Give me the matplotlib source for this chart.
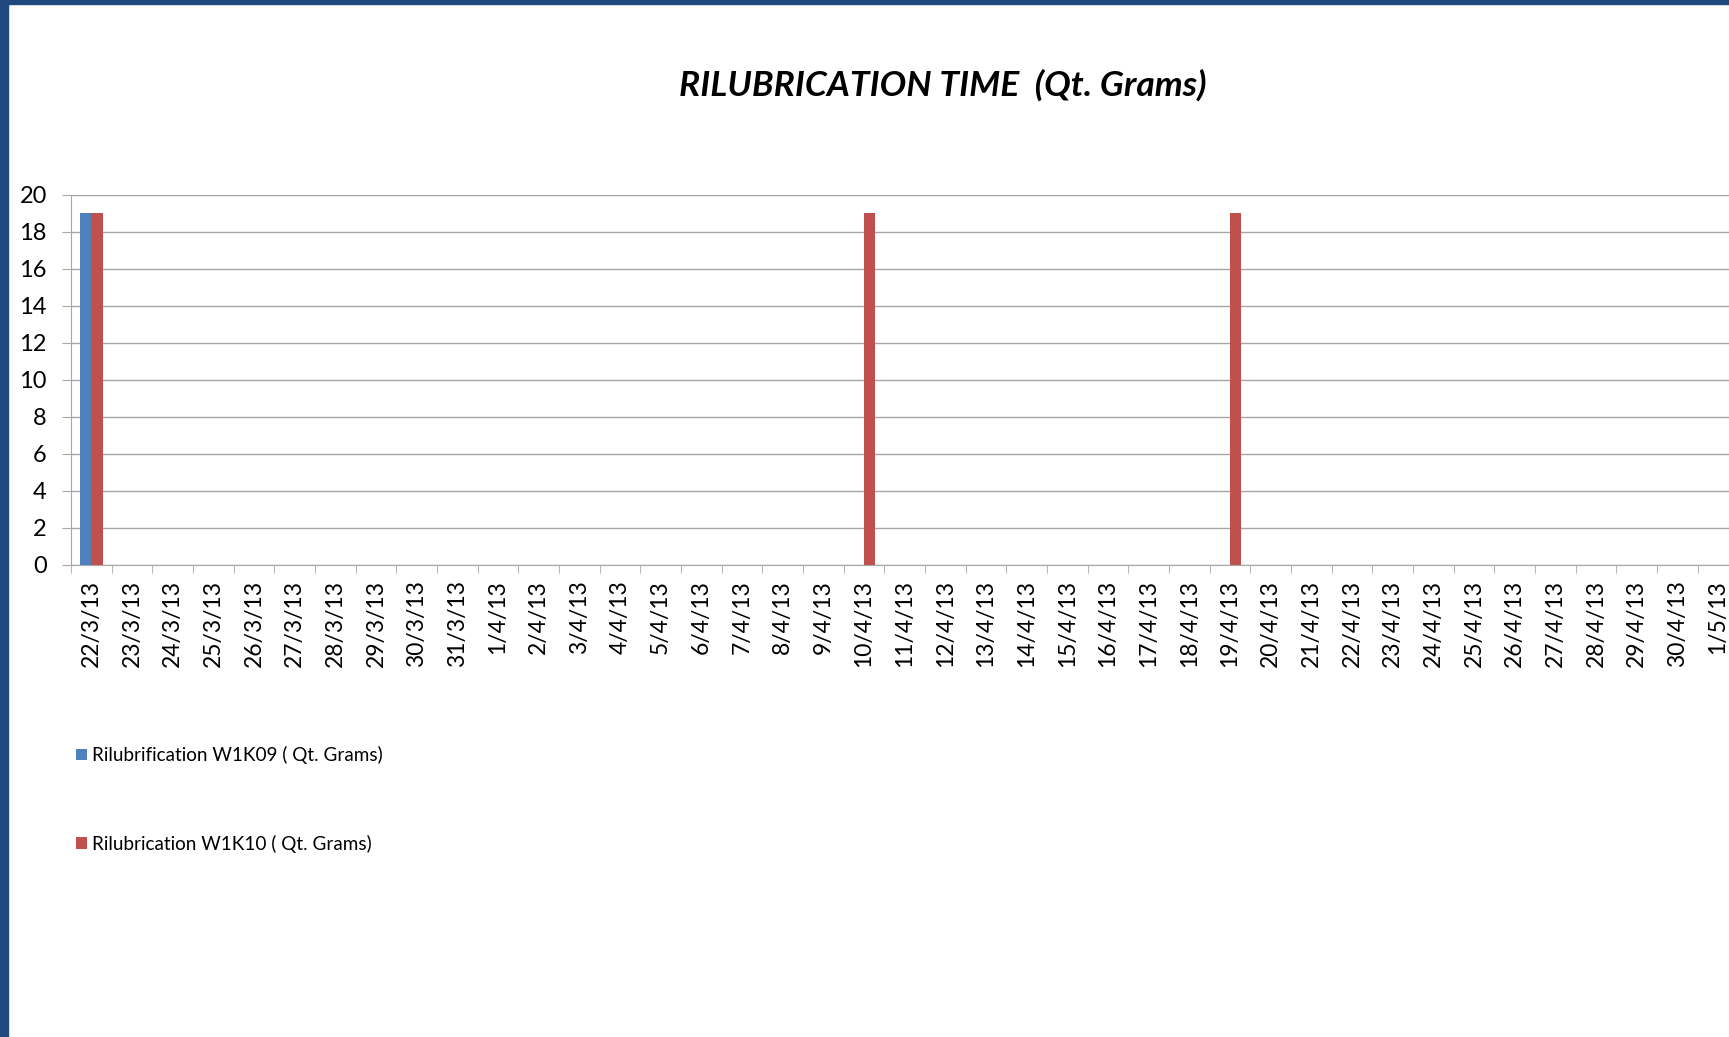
import matplotlib
matplotlib.use("Agg")
import matplotlib.pyplot as plt
import numpy as np
import pandas as pd
from matplotlib.patches import Rectangle

plt.rcParams["font.family"] = ["Lato", "DejaVu Sans"]

# categories: daily dates from 22/3/13 to 1/5/13
days = pd.date_range("2013-03-22", "2013-05-01", freq="D")
labels = [f"{d.day}/{d.month}/{d.year % 100}" for d in days]

w1k09 = [19, 0, 0, 0, 0, 0, 0, 0, 0, 0,
         0, 0, 0, 0, 0, 0, 0, 0, 0, 0,
         0, 0, 0, 0, 0, 0, 0, 0, 0, 0,
         0, 0, 0, 0, 0, 0, 0, 0, 0, 0, 0]
w1k10 = [19, 0, 0, 0, 0, 0, 0, 0, 0, 0,
         0, 0, 0, 0, 0, 0, 0, 0, 0, 19,
         0, 0, 0, 0, 0, 0, 0, 0, 19, 0,
         0, 0, 0, 0, 0, 0, 0, 0, 0, 0, 0]

fig = plt.figure(figsize=(17.29, 10.37), dpi=100)
ax = fig.add_axes([0.0411, 0.4552, 0.9643, 0.3568])

x = np.arange(len(labels))
bw = 0.278
ax.bar(x - bw / 2, w1k09, width=bw, color="#4F81BD", label="Rilubrification W1K09 ( Qt. Grams)")
ax.bar(x + bw / 2, w1k10, width=bw, color="#C0504D", label="Rilubrication W1K10 ( Qt. Grams)")

ax.set_xlim(-0.5, len(labels) - 0.5)
ax.set_ylim(0, 20)
ax.set_yticks(np.arange(0, 21, 2))
ax.yaxis.grid(True, color="#a6a6a6", linewidth=1)
ax.set_axisbelow(True)

ax.set_xticks(x)
ax.set_xticklabels(labels, rotation=90, fontsize=16.5)
ax.set_xticks(np.arange(-0.5, len(labels), 1), minor=True)
ax.tick_params(axis="x", which="major", length=0, pad=11)
ax.tick_params(axis="x", which="minor", length=6, color="#a6a6a6")
ax.tick_params(axis="y", length=6.5, color="#a6a6a6", labelsize=17, pad=11)

for s in ["top", "right"]:
    ax.spines[s].set_visible(False)
for s in ["left", "bottom"]:
    ax.spines[s].set_color("#a6a6a6")

fig.text(0.545, 0.918, "RILUBRICATION TIME  (Qt. Grams)", ha="center", va="center",
         fontsize=25.5, fontweight="bold", fontstyle="italic")

fig.legend(loc="upper left", bbox_to_anchor=(0.034, 0.297), frameon=False,
           fontsize=13.6, labelspacing=3.75, handlelength=0.58, handleheight=0.58,
           handletextpad=0.3)

# frame decoration like the slide border
fig.patches.append(Rectangle((0, 0), 8 / 1729, 1, transform=fig.transFigure,
                             color="#1F497D", zorder=10))
fig.patches.append(Rectangle((0, 1 - 4 / 1037), 1, 4 / 1037, transform=fig.transFigure,
                             color="#1F497D", zorder=10))

fig.savefig("out.png", dpi=100)
